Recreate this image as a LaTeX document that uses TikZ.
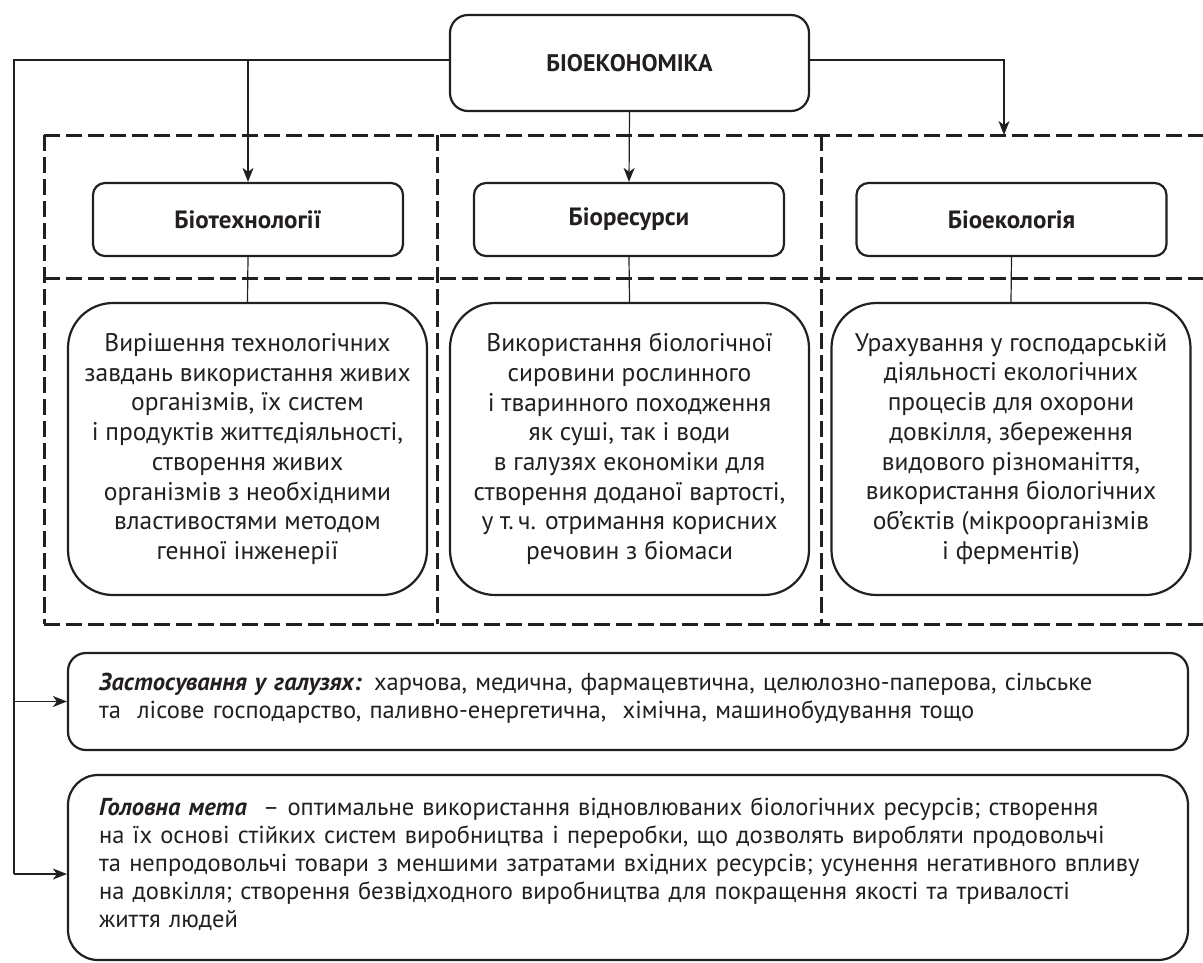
\documentclass[tikz,border=0pt]{standalone}
\usepackage{fontspec}
\setmainfont{PT Sans}
\usetikzlibrary{arrows.meta}
\definecolor{ink}{RGB}{35,31,32}
\begin{document}
\begin{tikzpicture}[x=1pt,y=-1pt,
  every node/.style={text=ink, inner sep=0pt},
  topbox/.style={draw=ink, line width=2.2pt, rounded corners=18pt, minimum width=359pt, minimum height=96pt, font=\bfseries\fontsize{24}{28}\selectfont},
  headbox/.style={draw=ink, line width=2.2pt, rounded corners=12pt, minimum width=310pt, minimum height=73pt, font=\bfseries\fontsize{25}{29}\selectfont},
  lowbox/.style={draw=ink, line width=2.2pt, rounded corners=45pt, minimum width=359pt, minimum height=292pt, align=center, font=\fontsize{25.5}{29.7}\selectfont},
  widebox/.style={draw=ink, line width=2.2pt, rounded corners=18pt, minimum width=1120pt},
  bodytext/.style={text width=1085pt, align=left, anchor=base west, font=\fontsize{24.5}{28.2}\selectfont},
  conn/.style={draw=ink, line width=1.2pt},
  arr/.style={conn, -{Stealth[length=14pt,width=11pt,inset=4pt]}},
  dashline/.style={draw=ink, line width=3pt, dash pattern=on 16pt off 6pt}
]
\useasboundingbox (0,0) rectangle (1203,962);

% dashed frame
\draw[dashline] (44,135) -- (1203,135);
\draw[dashline] (44,278) -- (1203,278);
\draw[dashline] (44,624) -- (1203,624);
\draw[dashline] (44,135) -- (44,624);
\draw[dashline] (437,135) -- (437,624);
\draw[dashline] (821,135) -- (821,624);

% nodes
\node[topbox] (bio) at (629.5,63) {БІОЕКОНОМІКА};
\node[headbox] (btech) at (248,219.5) {Біотехнології};
\node[headbox] (bres) at (629,219.5) {Біоресурси};
\node[headbox] (beco) at (1011.5,219.5) {Біоекологія};

\node[lowbox] (ltech) at (247.5,449) {Вирішення технологічних\\завдань використання живих\\організмів, їх систем\\і продуктів життєдіяльності,\\створення живих\\організмів з необхідними\\властивостями методом\\генної інженерії};
\node[lowbox] (lres) at (629.5,449) {Використання біологічної\\сировини рослинного\\і тваринного походження\\як суші, так і води\\в галузях економіки для\\створення доданої вартості,\\у т.\,ч. отримання корисних\\речовин з біомаси};
\node[lowbox] (leco) at (1011,449) {Урахування у господарській\\діяльності екологічних\\процесів для охорони\\довкілля, збереження\\видового різноманіття,\\використання біологічних\\об’єктів (мікроорганізмів\\і ферментів)};

\node[widebox, minimum height=97pt] (app) at (628,701.5) {};
\node[bodytext] (apptext) at (99,690) {\textbf{\textit{Застосування у галузях:}} харчова, медична, фармацевтична, целюлозно-паперова, сільське\\та\ \ лісове господарство, паливно-енергетична,\ \ хімічна, машинобудування тощо};

\node[widebox, rounded corners=30pt, minimum height=185pt] (goal) at (628,867.5) {};
\node[bodytext] (goaltext) at (99,815) {\textbf{\textit{Головна мета}}\ \ – оптимальне використання відновлюваних біологічних ресурсів; створення\\на їх основі стійких систем виробництва і переробки, що дозволять виробляти продовольчі\\та непродовольчі товари з меншими затратами вхідних ресурсів; усунення негативного впливу\\на довкілля; створення безвідходного виробництва для покращення якості та тривалості\\життя людей};

% connectors
\coordinate (lt) at (14,60);
\coordinate (lb) at (14,874);
\coordinate (tt) at (248,60);
\coordinate (rt) at (1004,60);
\coordinate (rb) at (1004,135);

\draw[conn] ([yshift=3pt]bio.west) -- (lt) -- (lb);
\draw[arr] (lt |- app.west) -- (app.west);
\draw[arr] (lb) -- (lb -| goal.west);
\draw[arr] (tt) -- (btech.north);
\draw[arr] (bio.south) -- (bres.north);
\draw[arr] ([yshift=3pt]bio.east) -- (rt) -- (rb);

\draw[conn] (btech.south) -- (ltech.north);
\draw[conn] (bres.south) -- (lres.north);
\draw[conn] (beco.south) -- (leco.north);
\end{tikzpicture}
\end{document}
